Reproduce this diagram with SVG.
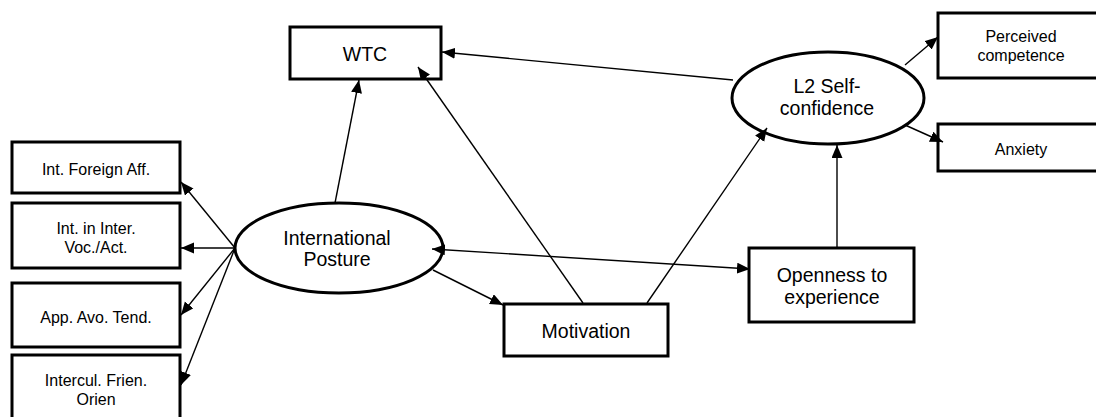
<svg xmlns="http://www.w3.org/2000/svg" width="1096" height="417" viewBox="0 0 1096 417">
<style>
.box{fill:#fff;stroke:#000;stroke-width:3}
.ell{fill:#fff;stroke:#000;stroke-width:3}
.t{font-family:"Liberation Sans",Arial,sans-serif;fill:#000;text-anchor:middle}
.s{font-size:16px}
.m{font-size:19.5px}
.c{stroke:#000;stroke-width:1.4;fill:none;marker-end:url(#ah)}
</style>
<defs>
<marker id="ah" markerUnits="userSpaceOnUse" markerWidth="14" markerHeight="12" refX="13" refY="5.5" orient="auto-start-reverse" viewBox="0 0 14 12">
<path d="M0,0 L13,5.5 L0,11 z" fill="#000"/>
</marker>
</defs>
<rect width="1096" height="417" fill="#fff"/>
<g id="wtc">
<rect class="box" x="290" y="27" width="151" height="52"/>
<text class="t m" x="365" y="61">WTC</text>
</g>
<g id="l2">
<ellipse class="ell" cx="828" cy="98" rx="96" ry="46"/>
<text class="t m" x="827" y="93">L2 Self-</text>
<text class="t m" x="827" y="115">confidence</text>
</g>
<g id="perceived">
<rect class="box" x="938" y="13" width="165" height="65"/>
<text class="t s" x="1021" y="42">Perceived</text>
<text class="t s" x="1021" y="61">competence</text>
</g>
<g id="anxiety">
<rect class="box" x="938" y="124" width="165" height="47"/>
<text class="t s" x="1021" y="155">Anxiety</text>
</g>
<g id="ip">
<ellipse class="ell" cx="339" cy="248" rx="104" ry="45"/>
<text class="t m" x="337" y="245">International</text>
<text class="t m" x="337" y="266">Posture</text>
</g>
<g id="motivation">
<rect class="box" x="504" y="304" width="164" height="52"/>
<text class="t m" x="586" y="338">Motivation</text>
</g>
<g id="openness">
<rect class="box" x="749" y="248" width="165" height="74"/>
<text class="t m" x="832" y="282">Openness to</text>
<text class="t m" x="832" y="304">experience</text>
</g>
<g id="ifa">
<rect class="box" x="12" y="142" width="168" height="51"/>
<text class="t s" x="96" y="175">Int. Foreign Aff.</text>
</g>
<g id="iiva">
<rect class="box" x="12" y="203" width="168" height="65"/>
<text class="t s" x="96" y="234">Int. in Inter.</text>
<text class="t s" x="96" y="253">Voc./Act.</text>
</g>
<g id="aat">
<rect class="box" x="12" y="283" width="168" height="64"/>
<text class="t s" x="96" y="323">App. Avo. Tend.</text>
</g>
<g id="ifo">
<rect class="box" x="12" y="355" width="168" height="70"/>
<text class="t s" x="96" y="386">Intercul. Frien.</text>
<text class="t s" x="96" y="405">Orien</text>
</g>
<g id="connectors">
<line class="c" x1="335" y1="203" x2="359" y2="80"/>
<line class="c" x1="583" y1="303" x2="418" y2="67"/>
<line class="c" x1="733" y1="80" x2="442" y2="52"/>
<line class="c" x1="905" y1="65" x2="938" y2="37"/>
<line class="c" x1="905" y1="125" x2="943" y2="142"/>
<line class="c" x1="647" y1="303" x2="767" y2="128"/>
<line class="c" x1="837" y1="248" x2="837" y2="145"/>
<line class="c" x1="432" y1="249" x2="750" y2="269" style="marker-start:url(#ah)"/>
<line class="c" x1="433" y1="270" x2="503" y2="305"/>
<line class="c" x1="235" y1="248" x2="181" y2="182"/>
<line class="c" x1="235" y1="248" x2="181" y2="248"/>
<line class="c" x1="235" y1="248" x2="181" y2="315"/>
<line class="c" x1="235" y1="248" x2="181" y2="385"/>
</g>
</svg>
